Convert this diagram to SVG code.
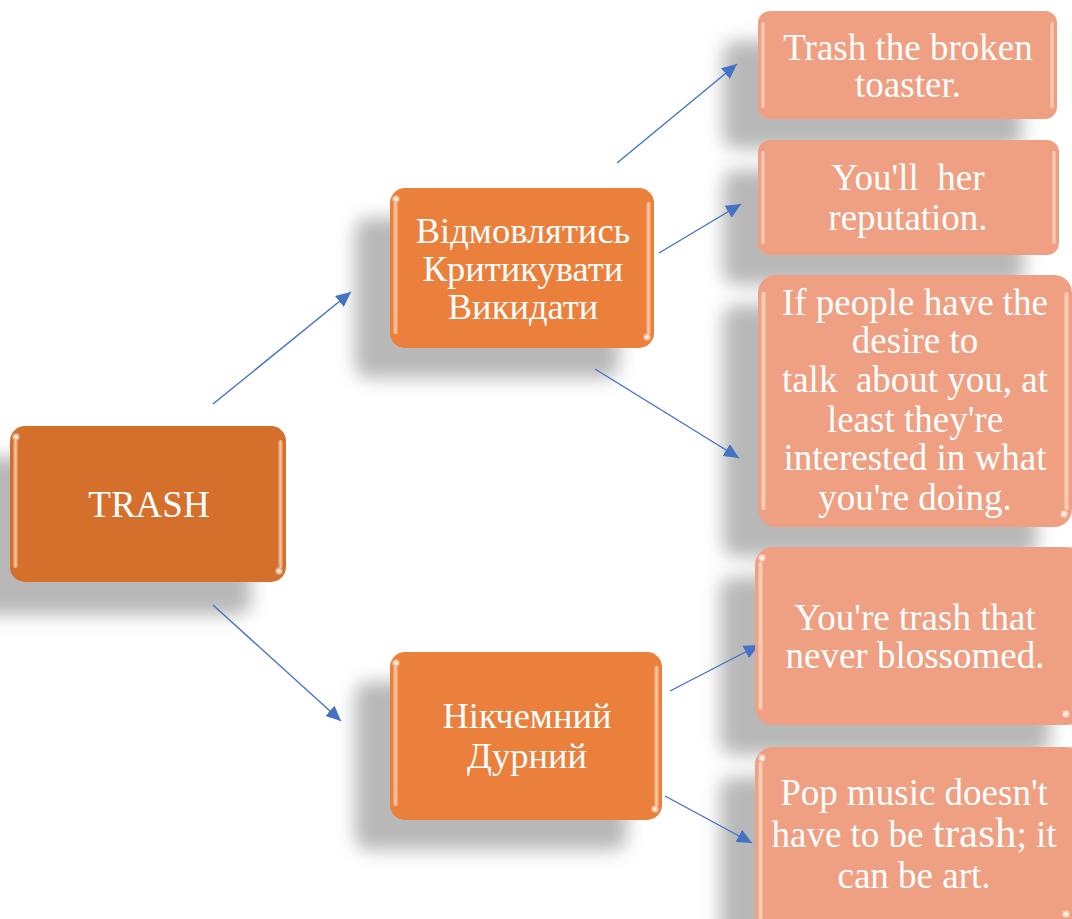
<svg xmlns="http://www.w3.org/2000/svg" width="1072" height="919" viewBox="0 0 1072 919">
<style>
text{font-family:"Liberation Serif","Times New Roman",serif;fill:#fff;text-anchor:middle;white-space:pre}
.t36{font-size:37px}
.t34{font-size:36.5px}
.conn line{stroke:#4472C4;stroke-width:1.4;fill:none}
.sh{fill:#b8b8b8;filter:url(#blur)}
.hl{fill:url(#hlg)}
.dot{fill:#fff;opacity:0.9;filter:url(#soft)}
</style>
<defs>
<filter id="blur" x="-30%" y="-30%" width="160%" height="160%"><feGaussianBlur stdDeviation="9"/></filter>
<filter id="soft"><feGaussianBlur stdDeviation="0.8"/></filter>
<linearGradient id="hlg" x1="0" y1="0" x2="1" y2="0">
<stop offset="0" stop-color="#fff" stop-opacity="0.15"/>
<stop offset="0.5" stop-color="#ffe6c8" stop-opacity="0.7"/>
<stop offset="1" stop-color="#fff" stop-opacity="0.15"/>
</linearGradient>
<marker id="ah" markerUnits="userSpaceOnUse" markerWidth="16" markerHeight="14" refX="15" refY="7" orient="auto">
<path d="M0,0 L15,7 L0,14 Z" fill="#4472C4"/>
</marker>
</defs>
<rect width="1072" height="919" fill="#fff"/>

<g id="shadows">
<rect class="sh" x="-25" y="457" width="276" height="158" rx="14"/>
<rect class="sh" x="355" y="218" width="264" height="160" rx="14"/>
<rect class="sh" x="355" y="682" width="272" height="168" rx="14"/>
<rect class="sh" x="723" y="41" width="299" height="108" rx="14"/>
<rect class="sh" x="723" y="170" width="301" height="115" rx="14"/>
<rect class="sh" x="723" y="305" width="314" height="252" rx="14"/>
<rect class="sh" x="720" y="577" width="330" height="178" rx="14"/>
<rect class="sh" x="720" y="777" width="330" height="178" rx="14"/>
</g>

<g id="connectors" class="conn">
<line x1="213" y1="404" x2="351" y2="292" marker-end="url(#ah)"/>
<line x1="213" y1="605" x2="341" y2="721" marker-end="url(#ah)"/>
<line x1="617" y1="163" x2="737" y2="64" marker-end="url(#ah)"/>
<line x1="659" y1="253" x2="741" y2="204" marker-end="url(#ah)"/>
<line x1="595" y1="369" x2="739" y2="458" marker-end="url(#ah)"/>
<line x1="670" y1="691" x2="759" y2="645" marker-end="url(#ah)"/>
<line x1="665" y1="796" x2="752" y2="843" marker-end="url(#ah)"/>
</g>

<g id="node-trash">
<rect x="10" y="426" width="276" height="156" rx="15" fill="#D5702C"/>
<rect class="hl" x="13" y="440" width="5" height="128" rx="2.5"/>
<rect class="hl" x="278" y="440" width="5" height="128" rx="2.5"/>
<circle class="dot" cx="16" cy="437" r="3"/>
<circle class="dot" cx="279" cy="571" r="3"/>
<text class="t36" x="149" y="517">TRASH</text>
</g>

<g id="node-vidmovlyatys">
<rect x="390" y="188" width="264" height="160" rx="15" fill="#EB7F3C"/>
<rect class="hl" x="393" y="202" width="5" height="132" rx="2.5"/>
<rect class="hl" x="646" y="202" width="5" height="132" rx="2.5"/>
<circle class="dot" cx="396" cy="199" r="3"/>
<circle class="dot" cx="647" cy="337" r="3"/>
<text class="t34" x="523" y="243">Відмовлятись</text>
<text class="t34" x="523" y="281">Критикувати</text>
<text class="t34" x="523" y="319">Викидати</text>
</g>

<g id="node-nikchemnyi">
<rect x="390" y="652" width="272" height="168" rx="15" fill="#EB7F3C"/>
<rect class="hl" x="393" y="666" width="5" height="140" rx="2.5"/>
<rect class="hl" x="654" y="666" width="5" height="140" rx="2.5"/>
<circle class="dot" cx="396" cy="663" r="3"/>
<circle class="dot" cx="655" cy="809" r="3"/>
<text class="t34" x="527" y="728">Нікчемний</text>
<text class="t34" x="527" y="768">Дурний</text>
</g>

<g id="node-toaster">
<rect x="758" y="11" width="299" height="108" rx="12" fill="#EFA082"/>
<rect class="hl" x="761" y="22" width="4" height="86" rx="2"/>
<rect class="hl" x="1050" y="22" width="4" height="86" rx="2"/>
<text class="t36" x="908" y="60">Trash the broken</text>
<text class="t36" x="908" y="97">toaster.</text>
</g>

<g id="node-reputation">
<rect x="758" y="140" width="301" height="115" rx="12" fill="#EFA082"/>
<rect class="hl" x="761" y="151" width="4" height="93" rx="2"/>
<rect class="hl" x="1052" y="151" width="4" height="93" rx="2"/>
<text class="t36" x="908" y="190">You'll  her</text>
<text class="t36" x="908" y="230">reputation.</text>
</g>

<g id="node-people">
<rect x="758" y="275" width="314" height="252" rx="18" fill="#EFA082"/>
<rect class="hl" x="761" y="292" width="5" height="218" rx="2.5"/>
<rect class="hl" x="1064" y="292" width="5" height="218" rx="2.5"/>
<circle class="dot" cx="1064" cy="514" r="3"/>
<text class="t36" x="915" y="315">If people have the</text>
<text class="t36" x="915" y="353">desire to</text>
<text class="t36" x="915" y="392">talk  about you, at</text>
<text class="t36" x="915" y="432">least they're</text>
<text class="t36" x="915" y="470">interested in what</text>
<text class="t36" x="915" y="510">you're doing.</text>
</g>

<g id="node-blossomed">
<rect x="755" y="547" width="330" height="178" rx="18" fill="#EFA082"/>
<rect class="hl" x="758" y="562" width="5" height="148" rx="2.5"/>
<circle class="dot" cx="762" cy="558" r="3"/>
<circle class="dot" cx="1066" cy="714" r="3"/>
<text class="t36" x="915" y="630">You're trash that</text>
<text class="t36" x="915" y="668">never blossomed.</text>
</g>

<g id="node-pop">
<rect x="755" y="747" width="330" height="190" rx="18" fill="#EFA082"/>
<rect class="hl" x="758" y="762" width="5" height="160" rx="2.5"/>
<circle class="dot" cx="762" cy="758" r="3"/>
<circle class="dot" cx="1066" cy="914" r="3"/>
<text class="t36" x="914" y="805">Pop music doesn't</text>
<text class="t36" x="914" y="847">have to be <tspan style="font-size:43px">trash</tspan>; it</text>
<text class="t36" x="914" y="888">can be art.</text>
</g>
</svg>
